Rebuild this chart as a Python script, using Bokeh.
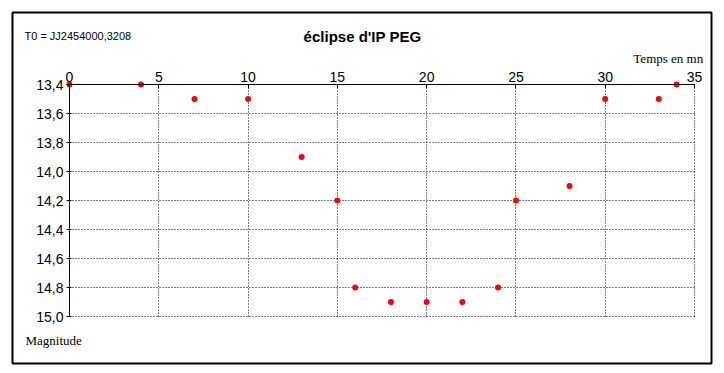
from bokeh.plotting import figure
from bokeh.models import Range1d, FixedTicker, CustomJSTickFormatter, Label
from bokeh.embed import file_html
from bokeh.resources import INLINE

# ---- data ----
temps = [0, 4, 7, 10, 13, 15, 16, 18, 20, 22, 24, 25, 28, 30, 33, 34]
magnitude = [13.4, 13.4, 13.5, 13.5, 13.9, 14.2, 14.8, 14.9, 14.9, 14.9, 14.8, 14.2, 14.1, 13.5, 13.5, 13.4]
x_ticks = [0, 5, 10, 15, 20, 25, 30, 35]
y_ticks = [13.4, 13.6, 13.8, 14.0, 14.2, 14.4, 14.6, 14.8, 15.0]
title_text = "éclipse d'IP PEG"
t0_text = "T0 = JJ2454000,3208"
x_label = "Temps en mn"
y_label = "Magnitude"

W, H = 724, 373
# frame = outer box (page 12..711 x 12..363); data 0..35 -> px 69..694, 13.4..15.0 -> px 84..316
p = figure(width=W, height=H, output_backend="svg", toolbar_location=None,
           x_axis_location="above",
           x_range=Range1d(-3.192, 35.952), y_range=Range1d(15.3241, 12.9034),
           min_border_left=12, min_border_right=13, min_border_top=12, min_border_bottom=10)
p.title.visible = False
p.outline_line_color = "black"
p.outline_line_width = 2
p.background_fill_color = "white"
p.border_fill_color = "white"

# axes
for ax in (p.xaxis[0], p.yaxis[0]):
    ax.axis_line_color = "black"
    ax.axis_line_width = 1
    ax.major_tick_line_color = "black"
    ax.minor_tick_line_color = None
    ax.major_label_text_font = "Liberation Sans"
    ax.major_label_text_font_size = "14px"
    ax.major_label_text_color = "black"

p.xaxis.ticker = FixedTicker(ticks=x_ticks)
p.xaxis.bounds = (x_ticks[0], x_ticks[-1])
p.xaxis.fixed_location = y_ticks[0]
p.xaxis.major_tick_in = 4
p.xaxis.major_tick_out = 0
p.xaxis.major_label_standoff = 3

p.yaxis.ticker = FixedTicker(ticks=y_ticks)
p.yaxis.bounds = (y_ticks[0], y_ticks[-1])
p.yaxis.fixed_location = x_ticks[0]
p.yaxis.major_tick_in = 2
p.yaxis.major_tick_out = 3
p.yaxis.major_label_standoff = 3
p.yaxis.formatter = CustomJSTickFormatter(code="return tick.toFixed(1).replace('.', ',');")

# grid
p.xgrid.bounds = (x_ticks[0], x_ticks[-1])
p.ygrid.bounds = (y_ticks[0], y_ticks[-1])
try:
    p.xgrid.cross_bounds = (y_ticks[0], y_ticks[-1])
    p.ygrid.cross_bounds = (x_ticks[0], x_ticks[-1])
    for g in (p.xgrid[0], p.ygrid[0]):
        g.grid_line_color = "black"
        g.grid_line_dash = "1 2"
        g.grid_line_width = 1
except Exception:
    p.xgrid.visible = False
    p.ygrid.visible = False
    p.segment(x0=x_ticks, y0=[y_ticks[0]] * len(x_ticks), x1=x_ticks, y1=[y_ticks[-1]] * len(x_ticks),
              line_color="black", line_dash="1 2", line_width=1)
    p.segment(x0=[x_ticks[0]] * len(y_ticks), y0=y_ticks, x1=[x_ticks[-1]] * len(y_ticks), y1=y_ticks,
              line_color="black", line_dash="1 2", line_width=1)

# points
p.scatter(temps, magnitude, size=6, color="#ff0000", line_color=None)

# texts
p.add_layout(Label(x=-2.52, y=13.064, text=t0_text, text_font="Liberation Sans",
                   text_font_size="11px", text_color="black", text_baseline="alphabetic"))
p.add_layout(Label(x=16.408, y=13.071, text=title_text, text_font="Liberation Sans",
                   text_font_size="15px", text_font_style="bold", text_color="black",
                   text_align="center", text_baseline="alphabetic"))
p.add_layout(Label(x=35.487, y=13.2186, text=x_label, text_font="Liberation Serif",
                   text_font_size="13px", text_color="black", text_align="right",
                   text_baseline="alphabetic"))
p.add_layout(Label(x=-2.464, y=15.1655, text=y_label, text_font="Liberation Serif",
                   text_font_size="13px", text_color="black", text_baseline="alphabetic"))

open("out.html", "w").write(file_html(p, INLINE))
